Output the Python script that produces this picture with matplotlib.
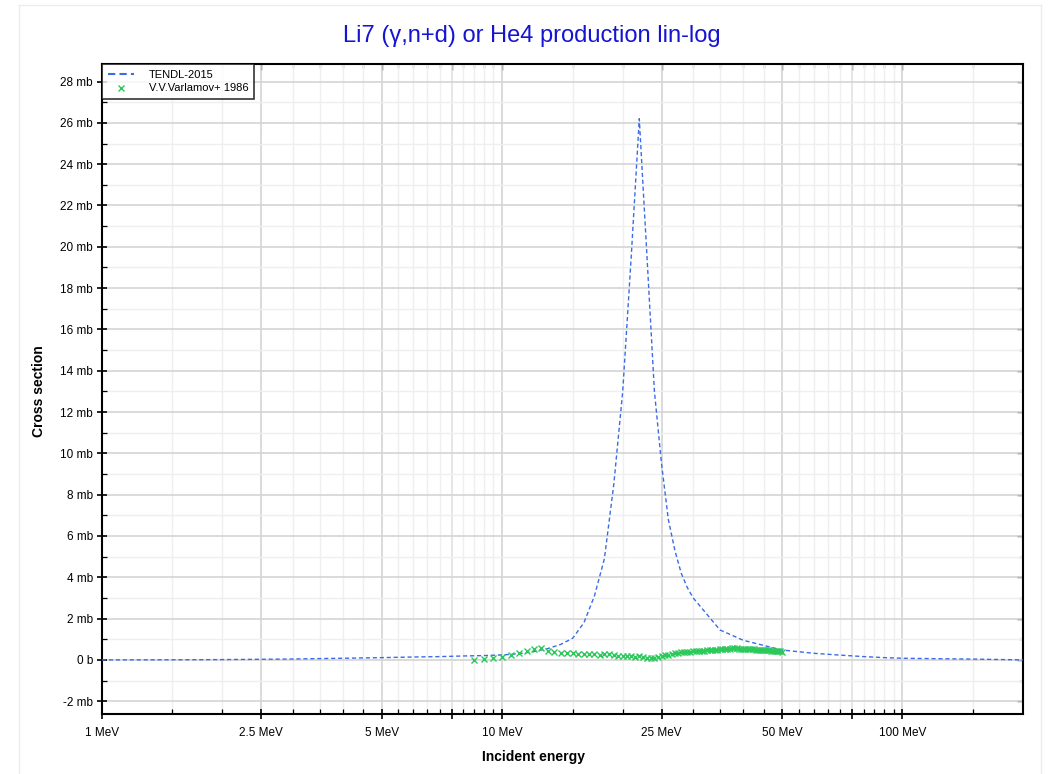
import matplotlib
matplotlib.use('Agg')
import matplotlib.pyplot as plt
from matplotlib.ticker import FixedLocator, FixedFormatter, NullFormatter
from matplotlib.lines import Line2D

plt.rcParams['font.family'] = ['Liberation Sans', 'DejaVu Sans']

# TENDL-2015 evaluation (MeV, mb)
tendl_e = [1, 1.5, 2, 2.5, 3, 4, 5, 6, 7, 8, 9, 10, 11, 12, 13, 14, 15, 16, 17, 18, 19, 20,
           21, 22, 23, 24, 25, 26, 27, 28, 29, 30, 35, 40, 45, 50, 60, 70, 80, 90, 100,
           120, 150, 200]
tendl_xs = [0.0, 0.005, 0.015, 0.03, 0.045, 0.08, 0.11, 0.14, 0.16, 0.19, 0.21, 0.24, 0.3,
            0.4, 0.55, 0.75, 1.05, 1.8, 3.1, 4.9, 8.5, 13.0, 19.5, 26.2, 19.5, 13.0, 9.5,
            6.8, 5.3, 4.2, 3.5, 3.0, 1.45, 0.95, 0.7, 0.48, 0.32, 0.23, 0.16, 0.11, 0.08,
            0.06, 0.04, 0.0]

# V.V.Varlamov+ 1986 measurement (MeV, mb)
varl_e = [8.5, 9.0, 9.5, 10.0, 10.5, 11.0, 11.5, 12.0, 12.5, 13.0, 13.5, 14.0, 14.5, 15.0,
          15.5, 16.0, 16.5, 17.0, 17.5, 18.0, 18.5, 19.0, 19.5, 20.0, 20.5, 21.0, 21.5,
          22.0, 22.5, 23.0, 23.5, 24.0, 24.5, 25.0, 25.5, 26.0, 26.5, 27.0, 27.5, 28.0,
          28.5, 29.0, 29.5, 30.0, 30.5, 31.0, 31.5, 32.0, 32.5, 33.0, 33.5, 34.0, 34.5,
          35.0, 35.5, 36.0, 36.5, 37.0, 37.5, 38.0, 38.5, 39.0, 39.5, 40.0, 40.5, 41.0,
          41.5, 42.0, 42.5, 43.0, 43.5, 44.0, 44.5, 45.0, 45.5, 46.0, 46.5, 47.0, 47.5,
          48.0, 48.5, 49.0, 49.5, 50.0]
varl_xs = [0.0, 0.05, 0.11, 0.16, 0.24, 0.34, 0.44, 0.52, 0.57, 0.45, 0.37, 0.33, 0.32, 0.31,
           0.30, 0.30, 0.29, 0.27, 0.26, 0.27, 0.30, 0.25, 0.21, 0.20, 0.20, 0.17, 0.15,
           0.17, 0.12, 0.09, 0.08, 0.09, 0.13, 0.18, 0.22, 0.26, 0.29, 0.32, 0.34, 0.36,
           0.38, 0.39, 0.40, 0.41, 0.42, 0.43, 0.44, 0.45, 0.46, 0.47, 0.48, 0.49, 0.50,
           0.51, 0.52, 0.53, 0.54, 0.55, 0.56, 0.56, 0.56, 0.55, 0.55, 0.54, 0.54, 0.53,
           0.52, 0.52, 0.51, 0.50, 0.50, 0.49, 0.48, 0.48, 0.47, 0.46, 0.46, 0.45, 0.44,
           0.43, 0.43, 0.42, 0.41, 0.40]

x_major = [1, 2.5, 5, 7.5, 10, 25, 50, 75, 100]
x_major_labels = ['1 MeV', '2.5 MeV', '5 MeV', '', '10 MeV', '25 MeV', '50 MeV', '', '100 MeV']
x_minor = [1.5, 2, 3, 3.5, 4, 4.5, 5.5, 6, 6.5, 7, 8, 8.5, 9, 9.5, 15, 20, 30, 35, 40, 45,
           55, 60, 65, 70, 80, 85, 90, 95, 150]
y_major = [-2, 0, 2, 4, 6, 8, 10, 12, 14, 16, 18, 20, 22, 24, 26, 28]
y_major_labels = ['-2 mb', '0 b'] + ['%d mb' % v for v in y_major[2:]]
y_minor = [-1, 1, 3, 5, 7, 9, 11, 13, 15, 17, 19, 21, 23, 25, 27]

fig = plt.figure(figsize=(10.49, 7.74), dpi=100)

# faint outer frame of the chart panel
for xs, ys in [([0.018, 0.018], [0, 0.994]), ([0.018, 0.992], [0.994, 0.994]),
               ([0.992, 0.992], [0, 0.994])]:
    fig.add_artist(Line2D(xs, ys, color='#ececec', lw=1.0, transform=fig.transFigure))

ax = fig.add_axes([0.0972, 0.0775, 0.878, 0.8398])

ax.plot(tendl_e, tendl_xs, color='#3c6be6', lw=1.0, ls=(0, (3, 2)), label='TENDL-2015', zorder=3)
ax.plot(varl_e, varl_xs, ls='none', marker='x', ms=5, mew=1.0, color='#2bc85a',
        label='V.V.Varlamov+ 1986', zorder=4)

ax.set_xscale('log')
ax.set_xlim(1, 200)
ax.set_ylim(-2.62, 28.85)

ax.xaxis.set_major_locator(FixedLocator(x_major))
ax.xaxis.set_major_formatter(FixedFormatter(x_major_labels))
ax.xaxis.set_minor_locator(FixedLocator(x_minor))
ax.xaxis.set_minor_formatter(NullFormatter())
ax.yaxis.set_major_locator(FixedLocator(y_major))
ax.yaxis.set_major_formatter(FixedFormatter(y_major_labels))
ax.yaxis.set_minor_locator(FixedLocator(y_minor))

ax.tick_params(which='major', direction='inout', length=7, width=1.2, labelsize=8.5,
               colors='black', pad=3)
ax.tick_params(which='minor', direction='in', length=3.5, width=0.9)
ax.tick_params(axis='x', which='major', pad=6)

# inward mirror ticks on top and right
top = ax.secondary_xaxis('top')
top.xaxis.set_major_locator(FixedLocator(x_major))
top.xaxis.set_minor_locator(FixedLocator(x_minor))
top.xaxis.set_major_formatter(NullFormatter())
top.xaxis.set_minor_formatter(NullFormatter())
top.tick_params(which='major', direction='in', length=4, width=1.0, color='#333333')
top.tick_params(which='minor', direction='in', length=3, width=0.9, color='#333333')
right = ax.secondary_yaxis('right')
right.yaxis.set_major_locator(FixedLocator(y_major))
right.yaxis.set_minor_locator(FixedLocator(y_minor))
right.yaxis.set_major_formatter(NullFormatter())
right.yaxis.set_minor_formatter(NullFormatter())
right.tick_params(which='major', direction='in', length=4, width=1.0, color='#333333')
right.tick_params(which='minor', direction='in', length=3, width=0.9, color='#333333')
for sec in (top, right):
    for s in sec.spines.values():
        s.set_visible(False)

ax.grid(which='major', color='#d4d4d4', lw=1.2)
ax.grid(which='minor', color='#efefef', lw=1.0)
for i, v in enumerate(x_major):
    if x_major_labels[i] == '':
        ax.get_xgridlines()[i].set_color('#e2e2e2')
ax.set_axisbelow(True)
for s in ax.spines.values():
    s.set_linewidth(1.5)

fig.text(0.509, 0.022, 'Incident energy', fontsize=10, fontweight='bold', ha='center', va='center')
fig.text(0.037, 0.495, 'Cross section', fontsize=10, fontweight='bold', ha='center', va='center',
         rotation=90)
fig.text(0.507, 0.954, 'Li7 (\u03b3,n+d) or He4 production lin-log', fontsize=17,
         color='#1414d2', ha='center', va='center')

leg = ax.legend(loc='upper left', fontsize=8, frameon=True, fancybox=False, borderaxespad=0,
                handlelength=2.4, borderpad=0.5, labelspacing=0.35, handletextpad=1.3)
leg.get_frame().set_edgecolor('black')
leg.get_frame().set_linewidth(1.2)
leg.get_lines()[0].set_linewidth(1.5)
leg.get_lines()[0].set_linestyle((0, (3.5, 2)))

fig.savefig('out.png', dpi=100)
